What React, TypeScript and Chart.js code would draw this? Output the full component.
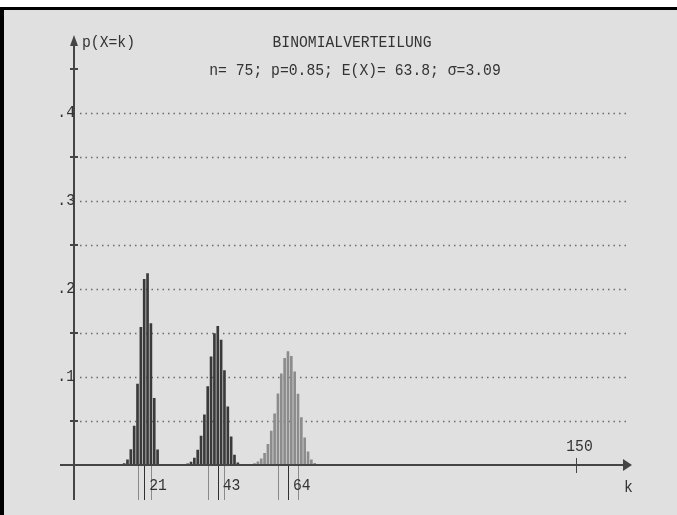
import React, { useEffect, useRef } from "react";
import { Chart, registerables } from "chart.js";

Chart.register(...registerables);

// n = 25, p = 0.85
const K1 = [14, 15, 16, 17, 18, 19, 20, 21, 22, 23, 24, 25];
const P1 = [0.0004, 0.0016, 0.0058, 0.0175, 0.0441, 0.092, 0.1564, 0.211, 0.2174, 0.1607, 0.0759, 0.0172];
// n = 50, p = 0.85
const K2 = [33, 34, 35, 36, 37, 38, 39, 40, 41, 42, 43, 44, 45, 46, 47, 48, 49, 50];
const P2 = [0.0005, 0.0013, 0.0033, 0.0079, 0.0169, 0.0328, 0.0571, 0.089, 0.123, 0.1494, 0.1575, 0.1419, 0.1072, 0.0661, 0.0319, 0.0113, 0.0026, 0.0003];
// n = 75, p = 0.85
const K3 = [53, 54, 55, 56, 57, 58, 59, 60, 61, 62, 63, 64, 65, 66, 67, 68, 69, 70, 71, 72, 73, 74];
const P3 = [0.0007, 0.0016, 0.0035, 0.0071, 0.0134, 0.0236, 0.0385, 0.0581, 0.081, 0.1037, 0.1212, 0.1288, 0.1235, 0.106, 0.0807, 0.0538, 0.0309, 0.015, 0.006, 0.0019, 0.0004, 0.0001];

// μ-σ, μ, μ+σ markers below the axis and the mean labels
const MARKS = [
  [19, 21, 23],
  [40, 43, 45],
  [61, 64, 67],
];
const MEAN_LABELS = ["21", "43", "64"];

const GRID_LEVELS = [0.05, 0.1, 0.15, 0.2, 0.25, 0.3, 0.35, 0.4];
const Y_TICK_MARKS = [0.05, 0.15, 0.25, 0.35, 0.45];
const Y_LABEL_VALUES = [0.1, 0.2, 0.3, 0.4];
const Y_LABELS = [".1", ".2", ".3", ".4"];
const X_TICK_VALUE = 150;
const X_TICK_LABEL = "150";

const TITLE = "BINOMIALVERTEILUNG";
const SUBTITLE = "n= 75; p=0.85; E(X)= 63.8; σ=3.09";
const Y_TITLE = "p(X=k)";
const X_TITLE = "k";

const FONT = "16px 'Liberation Mono', 'DejaVu Sans Mono', monospace";
const SX = 0.92;
const AXIS = "#454545";

const toPoints = (ks: number[], ps: number[]) => ks.map((k, i) => ({ x: k, y: ps[i] }));

function text(ctx: any, s: string, x: number, y: number, align: string) {
  ctx.save();
  ctx.font = FONT;
  ctx.textBaseline = "middle";
  ctx.textAlign = align;
  ctx.translate(x, y);
  ctx.scale(SX, 1);
  ctx.fillText(s, 0, 0);
  ctx.restore();
}

const decorPlugin = {
  id: "decor",
  beforeDraw(chart: any) {
    const ctx = chart.ctx;
    const W = chart.width, H = chart.height;
    ctx.save();
    ctx.fillStyle = "#ffffff";
    ctx.fillRect(0, 0, W, H);
    ctx.fillStyle = "#e0e0e0";
    ctx.fillRect(0, 7, W, H - 7);
    ctx.fillStyle = "#000000";
    ctx.fillRect(0, 7, W, 3);
    ctx.fillRect(0, 7, 4, H - 7);
    ctx.restore();
  },
  beforeDatasetsDraw(chart: any) {
    const ctx = chart.ctx;
    const xs = chart.scales.x, ys = chart.scales.y;
    const x0 = xs.getPixelForValue(0);
    ctx.save();
    ctx.strokeStyle = "#6a6a6a";
    ctx.lineWidth = 1.5;
    ctx.setLineDash([1.5, 4]);
    GRID_LEVELS.forEach((v) => {
      const y = Math.round(ys.getPixelForValue(v)) + 0.5;
      ctx.beginPath();
      ctx.moveTo(x0 + 6, y);
      ctx.lineTo(x0 + 556, y);
      ctx.stroke();
    });
    ctx.restore();
  },
  afterDatasetsDraw(chart: any) {
    const ctx = chart.ctx;
    const xs = chart.scales.x, ys = chart.scales.y;
    const x0 = Math.round(xs.getPixelForValue(0));
    const y0 = Math.round(ys.getPixelForValue(0));
    ctx.save();
    ctx.strokeStyle = AXIS;
    ctx.fillStyle = AXIS;
    ctx.lineWidth = 2;
    // y axis
    ctx.beginPath();
    ctx.moveTo(x0, y0 + 35);
    ctx.lineTo(x0, 44);
    ctx.stroke();
    ctx.beginPath();
    ctx.moveTo(x0, 35);
    ctx.lineTo(x0 - 4, 46);
    ctx.lineTo(x0 + 4, 46);
    ctx.closePath();
    ctx.fill();
    // x axis
    ctx.beginPath();
    ctx.moveTo(x0 - 14, y0);
    ctx.lineTo(x0 + 550, y0);
    ctx.stroke();
    ctx.beginPath();
    ctx.moveTo(x0 + 558, y0);
    ctx.lineTo(x0 + 549, y0 - 6);
    ctx.lineTo(x0 + 549, y0 + 6);
    ctx.closePath();
    ctx.fill();
    // y tick marks
    Y_TICK_MARKS.forEach((v) => {
      const y = Math.round(ys.getPixelForValue(v));
      ctx.beginPath();
      ctx.moveTo(x0 - 4, y);
      ctx.lineTo(x0 + 4, y);
      ctx.stroke();
    });
    // x tick
    const xt = Math.round(xs.getPixelForValue(X_TICK_VALUE)) + 0.5;
    ctx.lineWidth = 1;
    ctx.beginPath();
    ctx.moveTo(xt, y0 - 7);
    ctx.lineTo(xt, y0 + 8);
    ctx.stroke();
    // markers below axis
    MARKS.forEach((m) => {
      m.forEach((k, j) => {
        const x = Math.round(xs.getPixelForValue(k)) + 0.5;
        ctx.strokeStyle = j === 1 ? "#303030" : "#8a8a8a";
        ctx.lineWidth = 1;
        ctx.beginPath();
        ctx.moveTo(x, y0 + 1);
        ctx.lineTo(x, y0 + 35);
        ctx.stroke();
      });
    });
    // texts
    ctx.fillStyle = "#333333";
    text(ctx, TITLE, 352, 43, "center");
    text(ctx, SUBTITLE, 355, 71, "center");
    text(ctx, Y_TITLE, x0 + 8, 43, "left");
    text(ctx, X_TITLE, x0 + 550, y0 + 23, "left");
    text(ctx, X_TICK_LABEL, xt + 3, y0 - 18, "center");
    MARKS.forEach((m, i) => {
      const x = xs.getPixelForValue(m[1]);
      text(ctx, MEAN_LABELS[i], x + 5, y0 + 21, "left");
    });
    Y_LABEL_VALUES.forEach((v, i) => {
      const y = ys.getPixelForValue(v);
      text(ctx, Y_LABELS[i], x0 + 1, y, "right");
    });
    ctx.restore();
  },
};

export default function App() {
  const ref = useRef<HTMLCanvasElement>(null);
  useEffect(() => {
    if (!ref.current) return;
    const ds = (ks: number[], ps: number[], color: string) => ({
      data: toPoints(ks, ps),
      backgroundColor: color,
      borderWidth: 0,
      barThickness: 2,
      grouped: false,
    });
    const chart = new Chart(ref.current, {
      type: "bar",
      data: {
        datasets: [
          ds(K1, P1, "#3a3a3a"),
          ds(K2, P2, "#3a3a3a"),
          ds(K3, P3, "#8c8c8c"),
        ] as any,
      },
      options: {
        responsive: false,
        animation: false,
        layout: { padding: { left: 74, right: 101.5, top: 69, bottom: 50 } },
        plugins: { legend: { display: false }, tooltip: { enabled: false } },
        scales: {
          x: { type: "linear", min: 0, max: 150, display: false, offset: false, grid: { offset: false } },
          y: { type: "linear", min: 0, max: 0.45, display: false },
        },
      } as any,
      plugins: [decorPlugin],
    });
    return () => chart.destroy();
  }, []);
  return (
    <div style={{ position: "fixed", left: 0, top: 0, width: 677, height: 515 }}>
      <canvas ref={ref} width={677} height={515} style={{ display: "block" }} />
    </div>
  );
}
